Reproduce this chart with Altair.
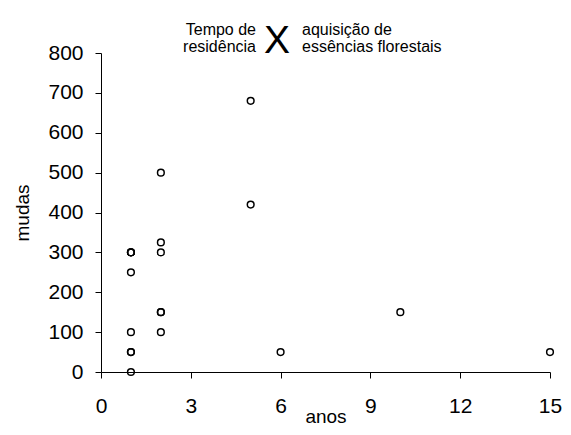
import altair as alt
import pandas as pd

anos = [1, 1, 1, 1, 1, 1, 1, 1, 2, 2, 2, 2, 2, 2, 5, 5, 6, 10, 15]
mudas = [0, 50, 50, 100, 250, 300, 300, 300, 100, 150, 150, 300, 325, 500, 420, 680, 50, 150, 50]
x_ticks = [0, 3, 6, 9, 12, 15]
y_ticks = [0, 100, 200, 300, 400, 500, 600, 700, 800]
title_left = ["Tempo de", "residência"]
title_right = ["aquisição de", "essências florestais"]

df = pd.DataFrame({"anos": anos, "mudas": mudas})
FONT = "Liberation Sans"

common_axis = dict(grid=False, tickSize=6, labelFontSize=21, titleFontSize=19,
                   domain=True, domainWidth=1, domainOpacity=1,
                   domainColor="black", tickColor="black", tickWidth=1,
                   labelColor="black", titleColor="black", labelFont=FONT,
                   titleFont=FONT, titleFontWeight="normal", labelFlush=False)

points = alt.Chart(df).mark_point(
    shape="circle", filled=False, color="black", size=45, strokeWidth=1.5, opacity=1
).encode(
    x=alt.X("anos:Q", scale=alt.Scale(domain=[0, 15], nice=False, zero=False),
            axis=alt.Axis(values=x_ticks, title="anos", labelPadding=17,
                          titlePadding=-9, **common_axis)),
    y=alt.Y("mudas:Q", scale=alt.Scale(domain=[0, 800], nice=False, zero=False),
            axis=alt.Axis(values=y_ticks, title="mudas", labelPadding=12,
                          titlePadding=15, **common_axis)),
)

def txt(t, x, y, align, size=16):
    return alt.Chart(pd.DataFrame({"t": [t]})).mark_text(
        align=align, baseline="alphabetic", fontSize=size, font=FONT, color="black"
    ).encode(text="t:N", x=alt.value(x), y=alt.value(y))

layers = [
    points,
    txt(title_left[0], 155, -18, "right"),
    txt(title_left[1], 155, -1, "right"),
    txt(title_right[0], 201, -18, "left"),
    txt(title_right[1], 201, -1, "left"),
    txt("X", 176, 0, "center", 39),
]

chart = alt.layer(*layers).properties(
    width=449, height=319,
    background="white",
    autosize=alt.AutoSizeParams(type="none"),
    padding={"left": 93, "top": 45, "right": 13, "bottom": 55},
).configure_view(stroke=None)

chart.save("out.html", embed_options={"renderer": "svg", "actions": False})
